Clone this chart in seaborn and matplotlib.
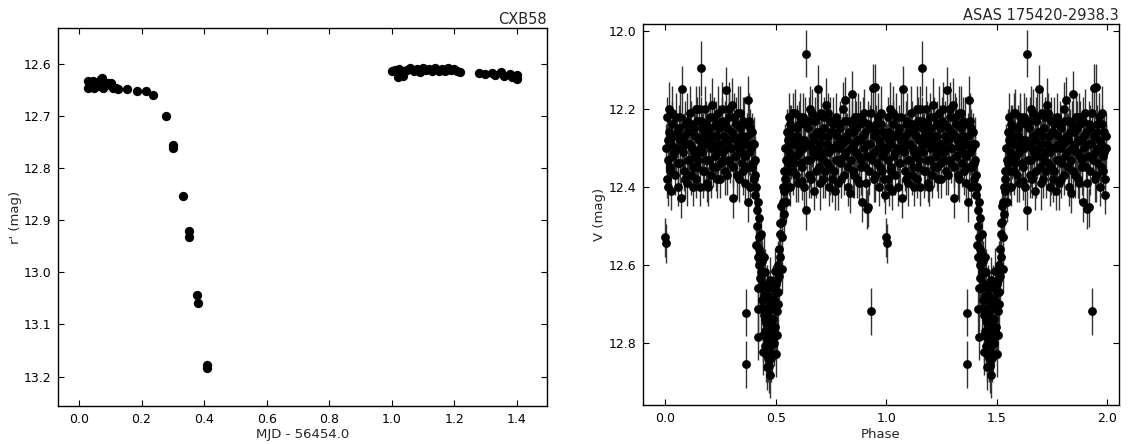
import numpy as np
import pandas as pd
import matplotlib
matplotlib.use('Agg')
import matplotlib.pyplot as plt
import seaborn as sns

# left panel: CXB58 time series (MJD - 56454.0, r' mag)
cxb_t = [0.028, 0.030, 0.035, 0.045, 0.048, 0.052, 0.066, 0.070, 0.075, 0.078,
         0.092, 0.100, 0.104, 0.110, 0.120, 0.125, 0.152, 0.187, 0.213, 0.237,
         0.277, 0.300, 0.302, 0.333, 0.352, 0.353, 0.379, 0.380, 0.410, 0.411,
         1.000, 1.012, 1.020, 1.025, 1.035, 1.040, 1.050, 1.060, 1.070, 1.080,
         1.090, 1.100, 1.110, 1.120, 1.130, 1.140, 1.150, 1.160, 1.170, 1.180,
         1.190, 1.200, 1.210, 1.220, 1.280, 1.300, 1.320, 1.330, 1.350, 1.360,
         1.380, 1.385, 1.400, 1.402]
cxb_mag = [12.632, 12.645, 12.640, 12.632, 12.646, 12.636, 12.642, 12.628, 12.626, 12.645,
           12.636, 12.640, 12.637, 12.646, 12.645, 12.648, 12.648, 12.651, 12.651, 12.659,
           12.699, 12.755, 12.761, 12.854, 12.920, 12.931, 13.044, 13.059, 13.178, 13.183,
           12.613, 12.611, 12.624, 12.610, 12.622, 12.614, 12.612, 12.608, 12.613, 12.610,
           12.615, 12.608, 12.612, 12.610, 12.613, 12.608, 12.613, 12.610, 12.614, 12.608,
           12.612, 12.610, 12.613, 12.615, 12.617, 12.618, 12.616, 12.620, 12.615, 12.622,
           12.618, 12.625, 12.620, 12.628]

# right panel: ASAS 175420-2938.3 phased V light curve (one cycle, shown twice)
asas_phase = [
    0.000, 0.003, 0.004, 0.006, 0.008, 0.010, 0.012, 0.015, 0.018, 0.020,
    0.024, 0.027, 0.030, 0.034, 0.038, 0.042, 0.046, 0.050, 0.055, 0.060,
    0.064, 0.068, 0.072, 0.077, 0.080, 0.085, 0.090, 0.094, 0.098, 0.103,
    0.107, 0.112, 0.116, 0.120, 0.125, 0.130, 0.135, 0.140, 0.145, 0.150,
    0.155, 0.160, 0.163, 0.167, 0.172, 0.176, 0.180, 0.185, 0.190, 0.195,
    0.200, 0.205, 0.210, 0.215, 0.220, 0.225, 0.230, 0.235, 0.240, 0.245,
    0.250, 0.255, 0.260, 0.265, 0.270, 0.276, 0.280, 0.285, 0.290, 0.295,
    0.300, 0.305, 0.310, 0.315, 0.320, 0.325, 0.330, 0.335, 0.340, 0.345,
    0.350, 0.355, 0.360, 0.364, 0.366, 0.370, 0.372, 0.376, 0.380, 0.385,
    0.390, 0.395, 0.400, 0.404, 0.408,
    0.412, 0.414, 0.416, 0.418, 0.418, 0.419, 0.420, 0.422, 0.424, 0.426,
    0.427, 0.429, 0.431, 0.433, 0.435, 0.437, 0.439, 0.441, 0.443, 0.445,
    0.447, 0.449, 0.451, 0.453, 0.455, 0.457, 0.458, 0.460, 0.462, 0.464,
    0.466, 0.468, 0.470, 0.472, 0.474, 0.476, 0.478, 0.480, 0.482, 0.484,
    0.486, 0.488, 0.490, 0.492, 0.495, 0.497, 0.500, 0.503, 0.505, 0.507,
    0.509, 0.512, 0.515, 0.518, 0.521, 0.524, 0.527, 0.529, 0.532, 0.535,
    0.538,
    0.540, 0.543, 0.546, 0.550, 0.554, 0.558, 0.562, 0.566, 0.570, 0.575,
    0.580, 0.585, 0.590, 0.595, 0.600, 0.605, 0.610, 0.615, 0.620, 0.625,
    0.630, 0.636, 0.639, 0.642, 0.647, 0.652, 0.657, 0.662, 0.667, 0.672,
    0.677, 0.682, 0.687, 0.692, 0.697, 0.702, 0.707, 0.712, 0.717, 0.722,
    0.727, 0.732, 0.737, 0.742, 0.747, 0.752, 0.757, 0.762, 0.769, 0.774,
    0.779, 0.784, 0.789, 0.794, 0.799, 0.804, 0.809, 0.815, 0.820, 0.825,
    0.830, 0.837, 0.841, 0.845, 0.850, 0.855, 0.860, 0.865, 0.870, 0.875,
    0.880, 0.885, 0.890, 0.895, 0.900, 0.905, 0.911, 0.915, 0.919, 0.925,
    0.930, 0.935, 0.941, 0.945, 0.949, 0.953, 0.958, 0.963, 0.968, 0.973,
    0.978, 0.983, 0.988, 0.993, 0.997]
asas_mag = [
    12.530, 12.545, 12.300, 12.380, 12.220, 12.330, 12.400, 12.260, 12.200, 12.350,
    12.290, 12.410, 12.240, 12.320, 12.270, 12.370, 12.220, 12.300, 12.400, 12.250,
    12.340, 12.280, 12.430, 12.150, 12.310, 12.360, 12.240, 12.290, 12.390, 12.260,
    12.330, 12.210, 12.370, 12.300, 12.400, 12.250, 12.320, 12.200, 12.350, 12.280,
    12.400, 12.230, 12.096, 12.310, 12.270, 12.360, 12.200, 12.330, 12.260, 12.400,
    12.220, 12.300, 12.190, 12.350, 12.270, 12.320, 12.240, 12.380, 12.210, 12.290,
    12.340, 12.230, 12.310, 12.270, 12.360, 12.152, 12.250, 12.330, 12.200, 12.300,
    12.260, 12.430, 12.220, 12.320, 12.280, 12.370, 12.210, 12.300, 12.250, 12.340,
    12.230, 12.290, 12.390, 12.723, 12.856, 12.270, 12.440, 12.176, 12.310, 12.250,
    12.350, 12.290, 12.380, 12.330, 12.420,
    12.550, 12.460, 12.500, 12.580, 12.715, 12.785, 12.440, 12.530, 12.600, 12.480,
    12.634, 12.570, 12.660, 12.520, 12.620, 12.690, 12.590, 12.823, 12.650, 12.730,
    12.680, 12.770, 12.620, 12.810, 12.710, 12.750, 12.862, 12.660, 12.790, 12.840,
    12.720, 12.770, 12.690, 12.810, 12.640, 12.882, 12.740, 12.840, 12.700, 12.780,
    12.660, 12.740, 12.800, 12.690, 12.617, 12.760, 12.670, 12.828, 12.720, 12.640,
    12.700, 12.600, 12.560, 12.492, 12.580, 12.450, 12.528, 12.612, 12.400, 12.470,
    12.360,
    12.380, 12.300, 12.440, 12.260, 12.340, 12.220, 12.310, 12.400, 12.250, 12.290,
    12.360, 12.210, 12.320, 12.270, 12.390, 12.240, 12.300, 12.340, 12.385, 12.220,
    12.280, 12.058, 12.460, 12.330, 12.250, 12.370, 12.200, 12.300, 12.270, 12.410,
    12.230, 12.320, 12.260, 12.148, 12.350, 12.290, 12.210, 12.380, 12.250, 12.310,
    12.190, 12.340, 12.270, 12.400, 12.230, 12.300, 12.260, 12.360, 12.410, 12.220,
    12.290, 12.330, 12.240, 12.380, 12.280, 12.200, 12.320, 12.178, 12.270, 12.350,
    12.230, 12.416, 12.300, 12.163, 12.260, 12.370, 12.220, 12.310, 12.280, 12.390,
    12.240, 12.330, 12.440, 12.270, 12.210, 12.350, 12.458, 12.290, 12.453, 12.250,
    12.720, 12.320, 12.146, 12.380, 12.145, 12.260, 12.340, 12.220, 12.400, 12.290,
    12.240, 12.360, 12.310, 12.420, 12.270]
asas_err = [
    0.05, 0.05, 0.06, 0.05, 0.05, 0.06, 0.05, 0.06, 0.07, 0.05,
    0.06, 0.05, 0.06, 0.05, 0.06, 0.05, 0.06, 0.07, 0.05, 0.06,
    0.05, 0.06, 0.05, 0.06, 0.06, 0.05, 0.06, 0.05, 0.06, 0.05,
    0.06, 0.07, 0.05, 0.06, 0.05, 0.06, 0.05, 0.06, 0.05, 0.06,
    0.05, 0.06, 0.07, 0.05, 0.06, 0.05, 0.06, 0.06, 0.05, 0.05,
    0.06, 0.06, 0.07, 0.05, 0.06, 0.05, 0.06, 0.05, 0.07, 0.06,
    0.05, 0.06, 0.06, 0.05, 0.06, 0.06, 0.06, 0.05, 0.07, 0.06,
    0.05, 0.05, 0.06, 0.06, 0.05, 0.06, 0.07, 0.06, 0.05, 0.06,
    0.06, 0.05, 0.05, 0.06, 0.06, 0.06, 0.05, 0.06, 0.06, 0.05,
    0.06, 0.06, 0.05, 0.06, 0.05,
    0.05, 0.05, 0.05, 0.05, 0.06, 0.06, 0.05, 0.05, 0.05, 0.05,
    0.05, 0.05, 0.06, 0.05, 0.05, 0.06, 0.05, 0.06, 0.06, 0.06,
    0.06, 0.06, 0.06, 0.06, 0.06, 0.06, 0.06, 0.06, 0.06, 0.06,
    0.06, 0.06, 0.06, 0.06, 0.06, 0.06, 0.06, 0.06, 0.06, 0.06,
    0.06, 0.06, 0.06, 0.06, 0.06, 0.06, 0.06, 0.06, 0.06, 0.06,
    0.06, 0.06, 0.05, 0.05, 0.05, 0.05, 0.05, 0.06, 0.05, 0.05,
    0.05,
    0.05, 0.06, 0.05, 0.06, 0.05, 0.06, 0.06, 0.05, 0.06, 0.05,
    0.06, 0.06, 0.05, 0.06, 0.05, 0.06, 0.05, 0.06, 0.05, 0.06,
    0.06, 0.06, 0.05, 0.06, 0.05, 0.06, 0.06, 0.05, 0.06, 0.05,
    0.06, 0.06, 0.05, 0.06, 0.05, 0.06, 0.06, 0.05, 0.06, 0.05,
    0.07, 0.06, 0.05, 0.05, 0.06, 0.06, 0.05, 0.06, 0.05, 0.06,
    0.06, 0.05, 0.06, 0.05, 0.06, 0.07, 0.05, 0.06, 0.06, 0.05,
    0.06, 0.05, 0.06, 0.06, 0.05, 0.06, 0.06, 0.05, 0.06, 0.05,
    0.06, 0.06, 0.05, 0.06, 0.06, 0.05, 0.05, 0.06, 0.05, 0.06,
    0.06, 0.05, 0.06, 0.06, 0.06, 0.05, 0.06, 0.06, 0.05, 0.06,
    0.05, 0.06, 0.06, 0.05, 0.06]

# more ASAS epochs (same star, same cycle)
asas_phase_b = [
    0.014, 0.022, 0.032, 0.040, 0.052, 0.058, 0.066, 0.075, 0.083, 0.088,
    0.096, 0.101, 0.110, 0.118, 0.123, 0.128, 0.133, 0.138, 0.143, 0.148,
    0.153, 0.158, 0.165, 0.170, 0.178, 0.183, 0.188, 0.193, 0.198, 0.203,
    0.208, 0.212, 0.218, 0.223, 0.228, 0.232, 0.238, 0.242, 0.248, 0.252,
    0.258, 0.262, 0.268, 0.272, 0.278, 0.282, 0.288, 0.292, 0.298, 0.302,
    0.308, 0.312, 0.318, 0.322, 0.328, 0.332, 0.338, 0.342, 0.348, 0.352,
    0.358, 0.362, 0.368, 0.374, 0.378, 0.383, 0.388, 0.393, 0.398, 0.402,
    0.406, 0.410,
    0.421, 0.425, 0.432, 0.438, 0.444, 0.448, 0.452, 0.456, 0.461, 0.465,
    0.469, 0.473, 0.477, 0.481, 0.485, 0.489, 0.493, 0.498, 0.502, 0.506,
    0.511, 0.516, 0.520, 0.526, 0.531, 0.536,
    0.548, 0.552, 0.556, 0.560, 0.564, 0.568, 0.573, 0.578, 0.583, 0.588,
    0.593, 0.598, 0.603, 0.608, 0.613, 0.618, 0.623, 0.628, 0.633, 0.645,
    0.650, 0.655, 0.660, 0.665, 0.670, 0.675, 0.680, 0.685, 0.690, 0.695,
    0.700, 0.705, 0.710, 0.715, 0.720, 0.725, 0.730, 0.735, 0.740, 0.745,
    0.750, 0.755, 0.760, 0.765, 0.772, 0.777, 0.782, 0.787, 0.792, 0.797,
    0.802, 0.807, 0.812, 0.817, 0.822, 0.828, 0.833, 0.839, 0.843, 0.848,
    0.853, 0.858, 0.863, 0.868, 0.873, 0.878, 0.883, 0.888, 0.893, 0.898,
    0.903, 0.908, 0.913, 0.917, 0.922, 0.928, 0.933, 0.938, 0.943, 0.947,
    0.951, 0.956, 0.961, 0.966, 0.971, 0.976, 0.981, 0.986, 0.991, 0.995]
asas_mag_b = [
    12.28, 12.36, 12.21, 12.31, 12.26, 12.34, 12.22, 12.30, 12.27, 12.38,
    12.23, 12.33, 12.29, 12.24, 12.35, 12.31, 12.27, 12.38, 12.23, 12.33,
    12.20, 12.30, 12.25, 12.36, 12.29, 12.24, 12.39, 12.28, 12.33, 12.25,
    12.37, 12.29, 12.22, 12.30, 12.35, 12.27, 12.31, 12.25, 12.38, 12.29,
    12.20, 12.33, 12.24, 12.30, 12.37, 12.28, 12.22, 12.34, 12.30, 12.19,
    12.35, 12.27, 12.24, 12.32, 12.29, 12.38, 12.21, 12.31, 12.27, 12.36,
    12.24, 12.32, 12.29, 12.35, 12.23, 12.40, 12.30, 12.26, 12.34, 12.29,
    12.37, 12.40,
    12.66, 12.56, 12.71, 12.62, 12.78, 12.58, 12.74, 12.83, 12.73, 12.68,
    12.86, 12.75, 12.70, 12.79, 12.83, 12.71, 12.77, 12.70, 12.65, 12.78,
    12.67, 12.63, 12.52, 12.49, 12.44, 12.41,
    12.33, 12.40, 12.28, 12.36, 12.24, 12.32, 12.27, 12.21, 12.34, 12.29,
    12.37, 12.25, 12.31, 12.22, 12.28, 12.35, 12.30, 12.40, 12.24, 12.29,
    12.23, 12.33, 12.38, 12.21, 12.31, 12.28, 12.36, 12.22, 12.30, 12.26,
    12.39, 12.32, 12.27, 12.33, 12.22, 12.36, 12.29, 12.21, 12.31, 12.35,
    12.26, 12.38, 12.24, 12.30, 12.33, 12.27, 12.39, 12.30, 12.25, 12.34,
    12.29, 12.37, 12.23, 12.31, 12.28, 12.40, 12.26, 12.33, 12.24, 12.36,
    12.29, 12.31, 12.25, 12.38, 12.22, 12.32, 12.28, 12.35, 12.23, 12.30,
    12.26, 12.39, 12.32, 12.24, 12.36, 12.29, 12.21, 12.33, 12.27, 12.31,
    12.37, 12.24, 12.30, 12.28, 12.35, 12.21, 12.32, 12.26, 12.38, 12.30]
asas_err_b = [
    0.06, 0.05, 0.07, 0.06, 0.05, 0.06, 0.07, 0.05, 0.06, 0.05,
    0.07, 0.06, 0.05, 0.06, 0.05, 0.07, 0.06, 0.05, 0.06, 0.07,
    0.06, 0.05, 0.06, 0.07, 0.05, 0.06, 0.05, 0.06, 0.07, 0.05,
    0.06, 0.07, 0.05, 0.06, 0.06, 0.05, 0.07, 0.06, 0.05, 0.06,
    0.07, 0.05, 0.06, 0.06, 0.05, 0.07, 0.06, 0.05, 0.06, 0.07,
    0.05, 0.06, 0.07, 0.06, 0.05, 0.06, 0.07, 0.05, 0.06, 0.06,
    0.07, 0.05, 0.06, 0.06, 0.07, 0.05, 0.06, 0.05, 0.06, 0.07,
    0.05, 0.06,
    0.06, 0.05, 0.06, 0.06, 0.07, 0.06, 0.06, 0.07, 0.06, 0.06,
    0.07, 0.06, 0.06, 0.07, 0.06, 0.06, 0.06, 0.07, 0.06, 0.06,
    0.06, 0.06, 0.05, 0.05, 0.05, 0.05,
    0.06, 0.05, 0.07, 0.06, 0.05, 0.06, 0.07, 0.05, 0.06, 0.05,
    0.07, 0.06, 0.05, 0.06, 0.07, 0.05, 0.06, 0.06, 0.07, 0.05,
    0.06, 0.07, 0.05, 0.06, 0.06, 0.05, 0.07, 0.06, 0.05, 0.06,
    0.07, 0.05, 0.06, 0.06, 0.05, 0.07, 0.06, 0.05, 0.06, 0.07,
    0.05, 0.06, 0.07, 0.06, 0.05, 0.06, 0.07, 0.05, 0.06, 0.06,
    0.07, 0.05, 0.06, 0.06, 0.07, 0.05, 0.06, 0.05, 0.06, 0.07,
    0.05, 0.06, 0.07, 0.05, 0.06, 0.06, 0.05, 0.07, 0.06, 0.05,
    0.06, 0.07, 0.05, 0.06, 0.06, 0.05, 0.07, 0.06, 0.05, 0.06,
    0.07, 0.05, 0.06, 0.06, 0.05, 0.07, 0.06, 0.05, 0.06, 0.06]


def main():
    sns.set_style('ticks', {'xtick.direction': 'in', 'ytick.direction': 'in',
                            'axes.edgecolor': 'black'})
    plt.rcParams['font.family'] = ['DejaVu Sans']

    cxb = pd.DataFrame({'t': cxb_t, 'mag': cxb_mag})
    one = pd.concat([
        pd.DataFrame({'phase': asas_phase, 'mag': asas_mag, 'err': asas_err}),
        pd.DataFrame({'phase': asas_phase_b, 'mag': asas_mag_b, 'err': asas_err_b}),
    ], ignore_index=True)
    two = one.copy()
    two['phase'] = two['phase'] + 1.0
    asas = pd.concat([one, two], ignore_index=True)

    fig = plt.figure(figsize=(11.35, 4.44), dpi=100)
    ax1 = fig.add_axes([0.0514, 0.0863, 0.4303, 0.850])
    ax2 = fig.add_axes([0.5668, 0.0880, 0.4190, 0.858])

    sns.scatterplot(x='t', y='mag', data=cxb, ax=ax1, color='black', s=45,
                    edgecolor='black', linewidth=0)
    ax1.set_xlim(-0.066, 1.496)
    ax1.set_ylim(13.256, 12.531)
    ax1.set_xticks([0.0, 0.2, 0.4, 0.6, 0.8, 1.0, 1.2, 1.4])
    ax1.set_yticks([12.6, 12.7, 12.8, 12.9, 13.0, 13.1, 13.2])
    ax1.set_xlabel('MJD - 56454.0', fontsize=9.5, labelpad=2)
    ax1.set_ylabel("r' (mag)", fontsize=9.5, labelpad=1)
    ax1.set_title('CXB58', loc='right', fontsize=10.5, pad=3)

    ax2.errorbar(asas['phase'], asas['mag'], yerr=asas['err'], fmt='none',
                 ecolor='0.2', elinewidth=1, capsize=0)
    sns.scatterplot(x='phase', y='mag', data=asas, ax=ax2, color='black', s=40,
                    edgecolor='black', linewidth=0, zorder=3)
    ax2.set_xlim(-0.10, 2.054)
    ax2.set_ylim(12.96, 11.982)
    ax2.set_xticks([0.0, 0.5, 1.0, 1.5, 2.0])
    ax2.set_yticks([12.0, 12.2, 12.4, 12.6, 12.8])
    ax2.set_xlabel('Phase', fontsize=9.5, labelpad=2)
    ax2.set_ylabel('V (mag)', fontsize=9.5, labelpad=2)
    ax2.set_title('ASAS 175420-2938.3', loc='right', fontsize=10.5, pad=3)

    for ax in [ax1, ax2]:
        ax.tick_params(top=True, right=True, direction='in', length=4,
                       labelsize=9, colors='black', pad=5)
        for sp in ax.spines.values():
            sp.set_visible(True)
            sp.set_linewidth(1)
        ax.xaxis.set_major_formatter(matplotlib.ticker.FormatStrFormatter('%.1f'))
        ax.yaxis.set_major_formatter(matplotlib.ticker.FormatStrFormatter('%.1f'))

    fig.savefig('out.png', dpi=100)


if __name__ == '__main__':
    main()
